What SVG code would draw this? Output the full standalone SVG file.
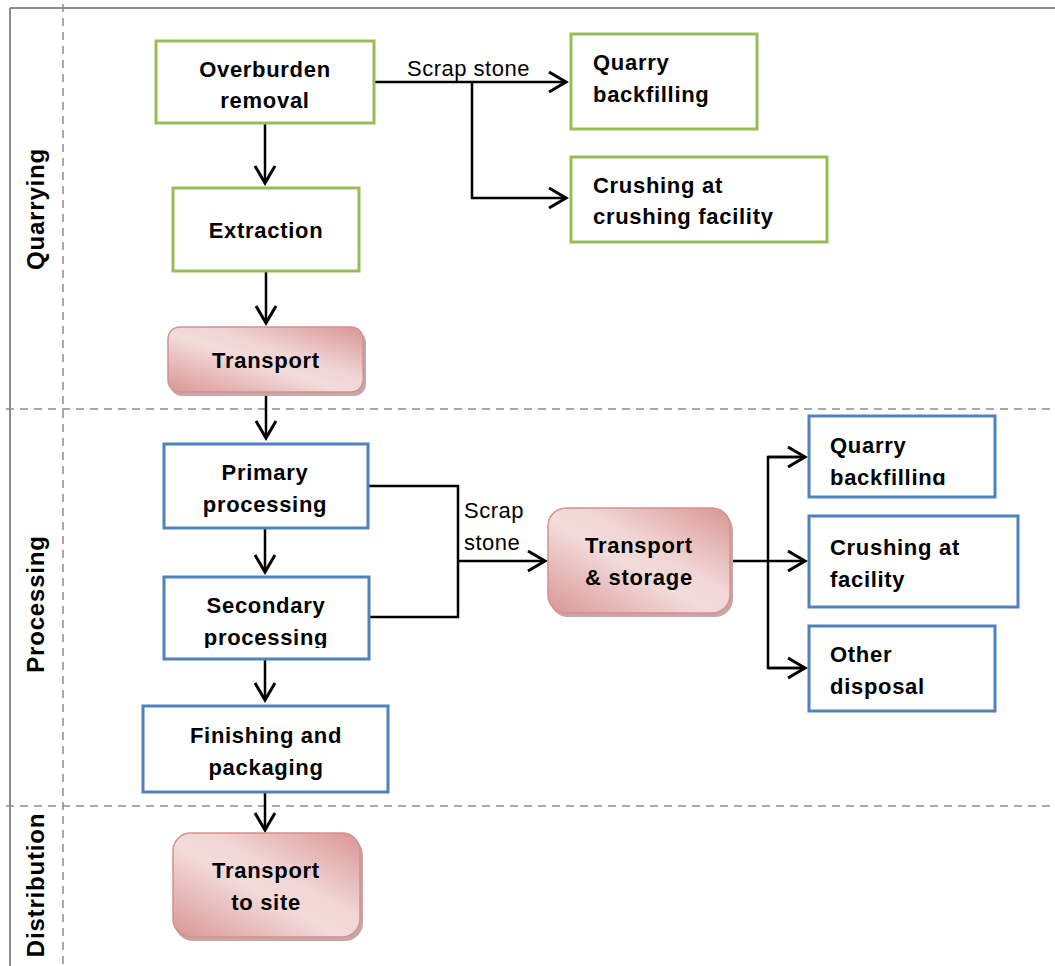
<svg xmlns="http://www.w3.org/2000/svg" width="1055" height="966" viewBox="0 0 1055 966">
<style>
.frame{stroke:#8c8c8c;stroke-width:2;fill:none}
.dash{stroke:#8c8c8c;stroke-width:1.5;stroke-dasharray:8 6;fill:none}
.green{fill:#fff;stroke:#9BBB59;stroke-width:3}
.blue{fill:#fff;stroke:#4F81BD;stroke-width:3}
.red{fill:url(#rg);stroke:#D5908F;stroke-width:1.5}
.shadow{fill:#C7A7A6}
.t{font-family:"Liberation Sans",Arial,sans-serif;font-weight:bold;font-size:22px;letter-spacing:0.7px;fill:#000}
.c{text-anchor:middle}
.lane{font-family:"Liberation Sans",Arial,sans-serif;font-weight:bold;font-size:24px;letter-spacing:0.8px;fill:#000;text-anchor:middle}
.lbl{font-family:"Liberation Sans",Arial,sans-serif;font-size:22px;letter-spacing:0.5px;fill:#000}
.conn{stroke:#000;stroke-width:2.5;fill:none}
</style>
<defs>
<linearGradient id="rg" x1="0" y1="1" x2="1" y2="0">
<stop offset="0" stop-color="#D99694"/>
<stop offset="0.45" stop-color="#F2DCDB"/>
<stop offset="0.6" stop-color="#F0D5D4"/>
<stop offset="1" stop-color="#D99694"/>
</linearGradient>
<marker id="arr" markerWidth="22" markerHeight="24" refX="19" refY="12" orient="auto" markerUnits="userSpaceOnUse">
<path d="M2,2 L19,12 L2,22" fill="none" stroke="#000" stroke-width="3"/>
</marker>
<clipPath id="clipSec"><rect x="163" y="576" width="206" height="72"/></clipPath>
<clipPath id="clipQb"><rect x="809" y="415" width="187" height="70"/></clipPath>
</defs>

<g id="lanes">
<line class="frame" x1="10" y1="8" x2="1055" y2="8"/>
<line class="frame" x1="10" y1="8" x2="10" y2="966"/>
<line class="dash" x1="63" y1="4" x2="63" y2="966"/>
<line class="dash" x1="6" y1="409" x2="1055" y2="409"/>
<line class="dash" x1="6" y1="806" x2="1055" y2="806"/>
<text class="lane" transform="translate(44,209) rotate(-90)">Quarrying</text>
<text class="lane" transform="translate(44,604) rotate(-90)">Processing</text>
<text class="lane" transform="translate(44,885) rotate(-90)">Distribution</text>
</g>

<g id="connectors">
<line class="conn" x1="265" y1="123" x2="265" y2="183" marker-end="url(#arr)"/>
<line class="conn" x1="266" y1="271" x2="266" y2="323" marker-end="url(#arr)"/>
<line class="conn" x1="266" y1="393" x2="266" y2="438" marker-end="url(#arr)"/>
<line class="conn" x1="265" y1="528" x2="265" y2="572" marker-end="url(#arr)"/>
<line class="conn" x1="265" y1="660" x2="265" y2="700" marker-end="url(#arr)"/>
<line class="conn" x1="265" y1="792" x2="265" y2="830" marker-end="url(#arr)"/>
<line class="conn" x1="375" y1="82" x2="566" y2="82" marker-end="url(#arr)"/>
<polyline class="conn" points="472,82 472,198 566,198" marker-end="url(#arr)"/>
<polyline class="conn" points="369,486 458,486 458,617 370,617"/>
<line class="conn" x1="458" y1="561" x2="545" y2="561" marker-end="url(#arr)"/>
<line class="conn" x1="731" y1="561" x2="805" y2="561" marker-end="url(#arr)"/>
<polyline class="conn" points="805,457 768,457 768,668 805,668"/>
<line class="conn" x1="768" y1="457" x2="805" y2="457" marker-end="url(#arr)"/>
<line class="conn" x1="768" y1="668" x2="805" y2="668" marker-end="url(#arr)"/>
<text class="lbl" x="407" y="76">Scrap stone</text>
<text class="lbl" x="464" y="518">Scrap</text>
<text class="lbl" x="464" y="550">stone</text>
</g>

<g id="n-overburden">
<rect class="green" x="156" y="41" width="218" height="82"/>
<text class="t c" x="265" y="77">Overburden</text>
<text class="t c" x="265" y="108">removal</text>
</g>
<g id="n-extraction">
<rect class="green" x="173" y="188" width="186" height="83"/>
<text class="t c" x="266" y="238">Extraction</text>
</g>
<g id="n-transport">
<rect class="shadow" x="170" y="331" width="196" height="65" rx="12"/>
<rect class="red" x="168" y="327" width="195" height="65" rx="12"/>
<text class="t c" x="266" y="368">Transport</text>
</g>
<g id="n-quarry-backfill-1">
<rect class="green" x="571" y="34" width="186" height="95"/>
<text class="t" x="593" y="70">Quarry</text>
<text class="t" x="593" y="102">backfilling</text>
</g>
<g id="n-crushing-1">
<rect class="green" x="571" y="157" width="256" height="85"/>
<text class="t" x="593" y="193">Crushing at</text>
<text class="t" x="593" y="224">crushing facility</text>
</g>
<g id="n-primary">
<rect class="blue" x="164" y="444" width="204" height="84"/>
<text class="t c" x="265" y="480">Primary</text>
<text class="t c" x="265" y="512">processing</text>
</g>
<g id="n-secondary">
<rect class="blue" x="164" y="577" width="205" height="82"/>
<g clip-path="url(#clipSec)">
<text class="t c" x="266" y="613">Secondary</text>
<text class="t c" x="266" y="645">processing</text>
</g>
</g>
<g id="n-finishing">
<rect class="blue" x="143" y="706" width="245" height="86"/>
<text class="t c" x="266" y="743">Finishing and</text>
<text class="t c" x="266" y="775">packaging</text>
</g>
<g id="n-transport-storage">
<rect class="shadow" x="550" y="512" width="183" height="105" rx="18"/>
<rect class="red" x="548" y="508" width="182" height="105" rx="18"/>
<text class="t c" x="639" y="553">Transport</text>
<text class="t c" x="639" y="585">&amp; storage</text>
</g>
<g id="n-quarry-backfill-2">
<rect class="blue" x="809" y="416" width="186" height="81"/>
<g clip-path="url(#clipQb)">
<text class="t" x="830" y="453">Quarry</text>
<text class="t" x="830" y="485">backfilling</text>
</g>
</g>
<g id="n-crushing-2">
<rect class="blue" x="809" y="516" width="209" height="91"/>
<text class="t" x="830" y="555">Crushing at</text>
<text class="t" x="830" y="587">facility</text>
</g>
<g id="n-other">
<rect class="blue" x="809" y="626" width="186" height="85"/>
<text class="t" x="830" y="662">Other</text>
<text class="t" x="830" y="694">disposal</text>
</g>
<g id="n-transport-site">
<rect class="shadow" x="175" y="837" width="188" height="104" rx="18"/>
<rect class="red" x="173" y="833" width="187" height="104" rx="18"/>
<text class="t c" x="266" y="878">Transport</text>
<text class="t c" x="266" y="910">to site</text>
</g>
</svg>
